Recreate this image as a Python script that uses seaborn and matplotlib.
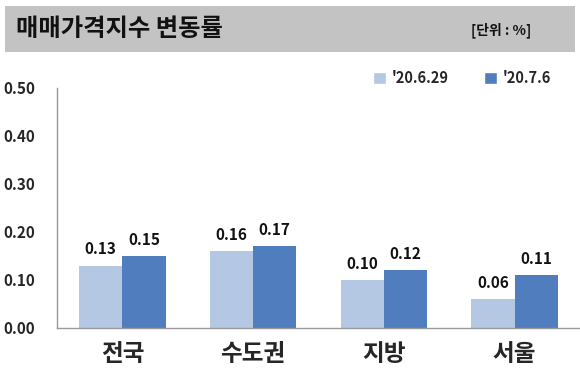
import matplotlib
matplotlib.use("Agg")
import matplotlib.pyplot as plt
import seaborn as sns
import pandas as pd
from matplotlib.patches import Rectangle

# Data
regions = ["전국", "수도권", "지방", "서울"]
series = ["'20.6.29", "'20.7.6"]
prev_week = [0.13, 0.16, 0.10, 0.06]
this_week = [0.15, 0.17, 0.12, 0.11]
yticks = [0.0, 0.1, 0.2, 0.3, 0.4, 0.5]

colors = ["#B4C8E4", "#4F7DBD"]

df = pd.DataFrame({
    "region": regions * 2,
    "series": [series[0]] * 4 + [series[1]] * 4,
    "value": prev_week + this_week,
})

sns.set_style("white")
plt.rcParams["font.family"] = ["Noto Sans CJK KR", "DejaVu Sans"]

W, H = 580, 380
fig = plt.figure(figsize=(W / 100, H / 100), dpi=100)

# title band
band = Rectangle((5 / W, 1 - 52 / H), 570 / W, 46 / H, transform=fig.transFigure,
                 facecolor="#C3C3C3", edgecolor="none")
fig.patches.append(band)
fig.text(16 / W, 1 - 29 / H, "매매가격지수 변동률", fontsize=17.5, fontweight="heavy",
         va="center", ha="left", color="#111111")
fig.text(531 / W, 1 - 30 / H, "[단위 : %]", fontsize=10, fontweight="bold",
         va="center", ha="right", color="#111111")

ax = fig.add_axes([57 / W, 52 / H, 523 / W, 240 / H])
sns.barplot(data=df, x="region", y="value", hue="series", palette=colors,
            width=0.66, ax=ax, legend=False, saturation=1, linewidth=0)

for cont in ax.containers:
    ax.bar_label(cont, fmt="%.2f", padding=6, fontsize=11, fontweight="bold",
                 color="#111111")

ax.set_xlim(-0.5, 3.5)
ax.set_ylim(0, 0.5)
ax.set_yticks(yticks)
ax.set_yticklabels([f"{v:.2f}" for v in yticks], fontsize=11, fontweight="bold")
ax.set_xticks(range(len(regions)))
ax.set_xticklabels(regions, fontsize=17, fontweight="bold")
ax.set_xticks([-0.5, 0.5, 1.5, 2.5], minor=True)
ax.tick_params(axis="x", which="major", length=0, pad=10)
ax.tick_params(axis="x", which="minor", length=5, color="#999999", direction="out")
ax.tick_params(axis="y", length=4, color="#999999", direction="out", pad=12)
ax.set_xlabel("")
ax.set_ylabel("")
for s in ["top", "right"]:
    ax.spines[s].set_visible(False)
for s in ["left", "bottom"]:
    ax.spines[s].set_color("#999999")
    ax.spines[s].set_linewidth(1)

# legend
handles = [Rectangle((0, 0), 1, 1, facecolor=c) for c in colors]
fig.legend(handles, series, loc="center", bbox_to_anchor=(462 / W, 1 - 78 / H),
           ncol=2, frameon=False, handlelength=0.9, handleheight=0.9,
           handletextpad=0.4, columnspacing=2.4,
           prop={"weight": "bold", "size": 10.5})

fig.savefig("out.png", dpi=100)
